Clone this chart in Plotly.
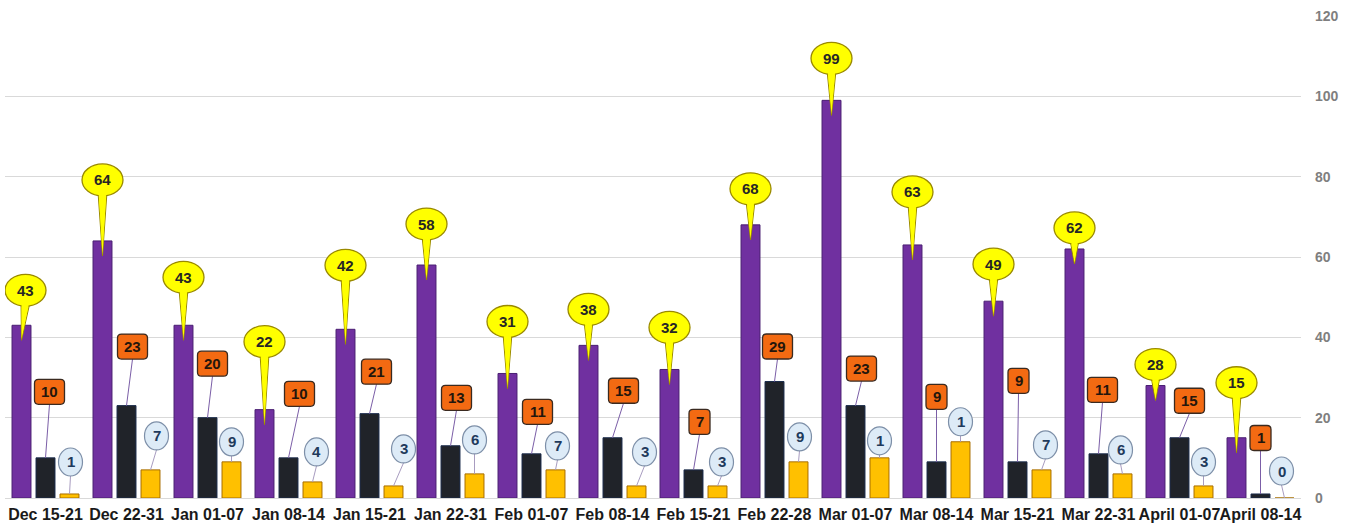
import plotly.graph_objects as go

# ---------------- data ----------------
categories = ["Dec 15-21", "Dec 22-31", "Jan 01-07", "Jan 08-14", "Jan 15-21",
              "Jan 22-31", "Feb 01-07", "Feb 08-14", "Feb 15-21", "Feb 22-28",
              "Mar 01-07", "Mar 08-14", "Mar 15-21", "Mar 22-31", "April 01-07",
              "April 08-14"]
purple_vals = [43, 64, 43, 22, 42, 58, 31, 38, 32, 68, 99, 63, 49, 62, 28, 15]
dark_vals = [10, 23, 20, 10, 21, 13, 11, 15, 7, 29, 23, 9, 9, 11, 15, 1]
amber_vals = [1, 7, 9, 4, 3, 6, 7, 3, 3, 9, 10, 14, 7, 6, 3, 0]
y_ticks = [0, 20, 40, 60, 80, 100, 120]

# ---------------- label placement (pixel offsets of callouts from bar tops) ----------------
yellow_dx = [4, 0, 0, 0, 0, 0, 0, 0, 0, 0, 0, 0, 0, 0, 0, 0]
yellow_dy = [35, 61, 48, 68, 64, 41, 52, 36, 42, 36, 42, 53, 37, 21, 21, 55]
orange_dx = [4, 6, 5, 11, 7, 6, 6, 11, 6, 3, 6, 0, 1, 4, 10, 0]
orange_dy = [66, 59, 54, 64, 42, 48, 42, 47, 48, 35, 37, 65, 81, 64, 37, 56]
blue_dx = [1, 6, 0, 4, 10, 0, 2, 8, 4, 1, 0, 0, 4, -2, 0, -3]
blue_dy = [32, 34, 20, 30, 37, 34, 24, 34, 24, 25, 17, 20, 25, 24, 24, 27]

# ---------------- styles ----------------
FONT = "Liberation Sans, Arial, sans-serif"
PURPLE, PURPLE_EDGE = "#7030A0", "#4a1f72"
DARK, DARK_EDGE = "#202329", "#1b2c4c"
AMBER, AMBER_EDGE = "#FFC000", "#a86e00"
YELLOW, YELLOW_EDGE = "#FFFF00", "#9a8a00"
ORANGE, ORANGE_EDGE = "#F36A12", "#3a2a20"
BLUE, BLUE_EDGE = "#DDEBF7", "#7d8fa8"
BARGAP, GROUPGAP = 0.111, 0.21

fig = go.Figure()
for vals, col, edge, name in [(purple_vals, PURPLE, PURPLE_EDGE, "Series 1"),
                              (dark_vals, DARK, DARK_EDGE, "Series 2"),
                              (amber_vals, AMBER, AMBER_EDGE, "Series 3")]:
    fig.add_trace(go.Bar(x=categories, y=vals, name=name,
                         marker=dict(color=col, line=dict(color=edge, width=1)),
                         hoverinfo="x+y"))

slot = (1 - BARGAP) / 3
offs = [-slot, 0.0, slot]

shapes = []
annots = []


def pix(xa, ya, **kw):
    d = dict(xref="x", yref="y", xsizemode="pixel", ysizemode="pixel",
             xanchor=xa, yanchor=ya, layer="above")
    d.update(kw)
    return d


def tri(ax, ay, bx, by, cx, cy):
    return f"M{ax},{ay} L{bx},{by} L{cx},{cy} Z"


for i in range(len(categories)):
    # ---- yellow speech-bubble callout for purple series ----
    xa = i + offs[0]
    v = purple_vals[i]
    ex, ey = yellow_dx[i], yellow_dy[i]
    rx, ry = 20.5, 16
    shapes.append(pix(xa, v, type="path",
                      path=tri(ex - 4.5, ey - ry + 4, ex + 4.5, ey - ry + 4, 0, -15),
                      fillcolor=YELLOW, line=dict(color=YELLOW_EDGE, width=1)))
    shapes.append(pix(xa, v, type="circle", x0=ex - rx, x1=ex + rx, y0=ey - ry, y1=ey + ry,
                      fillcolor=YELLOW, line=dict(color=YELLOW_EDGE, width=1.3)))
    shapes.append(pix(xa, v, type="path",
                      path=tri(ex - 3.9, ey - ry + 5, ex + 3.9, ey - ry + 5, 0, -14),
                      fillcolor=YELLOW, line=dict(width=0)))
    annots.append(dict(x=xa, y=v, xref="x", yref="y", showarrow=False,
                       xshift=ex, yshift=ey, text=f"<b>{v}</b>",
                       font=dict(family=FONT, size=15, color="#262626")))

    # ---- orange rounded-box callout for dark series ----
    xa = i + offs[1]
    v = dark_vals[i]
    cx, cy = orange_dx[i], orange_dy[i]
    w = 15 if len(str(v)) > 1 else 10.5
    h, r = 12.5, 4
    shapes.append(pix(xa, v, type="line", x0=0, y0=0, x1=cx, y1=cy - h,
                      line=dict(color="#7b5ea7", width=1)))
    rr = (f"M{cx - w + r},{cy + h} L{cx + w - r},{cy + h} Q{cx + w},{cy + h} {cx + w},{cy + h - r} "
          f"L{cx + w},{cy - h + r} Q{cx + w},{cy - h} {cx + w - r},{cy - h} "
          f"L{cx - w + r},{cy - h} Q{cx - w},{cy - h} {cx - w},{cy - h + r} "
          f"L{cx - w},{cy + h - r} Q{cx - w},{cy + h} {cx - w + r},{cy + h} Z")
    shapes.append(pix(xa, v, type="path", path=rr, fillcolor=ORANGE,
                      line=dict(color=ORANGE_EDGE, width=1.3)))
    annots.append(dict(x=xa, y=v, xref="x", yref="y", showarrow=False,
                       xshift=cx, yshift=cy, text=f"<b>{v}</b>",
                       font=dict(family=FONT, size=15, color="#24160c")))

    # ---- light-blue oval callout for amber series (narrow oval shows one digit) ----
    xa = i + offs[2]
    v = amber_vals[i]
    bx, by = blue_dx[i], blue_dy[i]
    brx, bry = 12, 14
    shapes.append(pix(xa, v, type="line", x0=0, y0=0, x1=bx, y1=by - bry,
                      line=dict(color="#a89cc0", width=1)))
    shapes.append(pix(xa, v, type="circle", x0=bx - brx, x1=bx + brx, y0=by - bry, y1=by + bry,
                      fillcolor=BLUE, line=dict(color=BLUE_EDGE, width=1.2)))
    annots.append(dict(x=xa, y=v, xref="x", yref="y", showarrow=False,
                       xshift=bx, yshift=by, text=f"<b>{str(v)[:1]}</b>",
                       font=dict(family=FONT, size=15, color="#1f3a5c")))

fig.update_layout(
    width=1356, height=531, autosize=False,
    margin=dict(l=5, r=55, t=16, b=33),
    paper_bgcolor="white", plot_bgcolor="white",
    barmode="group", bargap=BARGAP, bargroupgap=GROUPGAP,
    showlegend=False,
    shapes=shapes, annotations=annots,
    xaxis=dict(type="category", categoryorder="array", categoryarray=categories,
               range=[-0.5, len(categories) - 0.5], tickangle=0, automargin=False,
               tickfont=dict(family=FONT, size=16, color="#1a1a1a", weight="bold"),
               ticklabelstandoff=5,
               showgrid=False, showline=False, ticks="", fixedrange=True),
    yaxis=dict(side="right", range=[0, 120], tickvals=y_ticks, automargin=False,
               tickfont=dict(family=FONT, size=14, color="#7f7f7f", weight="bold"),
               showgrid=True, gridcolor="#d9d9d9", gridwidth=1,
               zeroline=True, zerolinecolor="#d9d9d9", zerolinewidth=1,
               showline=False, ticks="", ticklabelstandoff=13, fixedrange=True),
)

fig.write_html("out.html", config={"displayModeBar": False},
               post_script="document.body.style.margin='0';document.body.style.overflow='hidden';")
